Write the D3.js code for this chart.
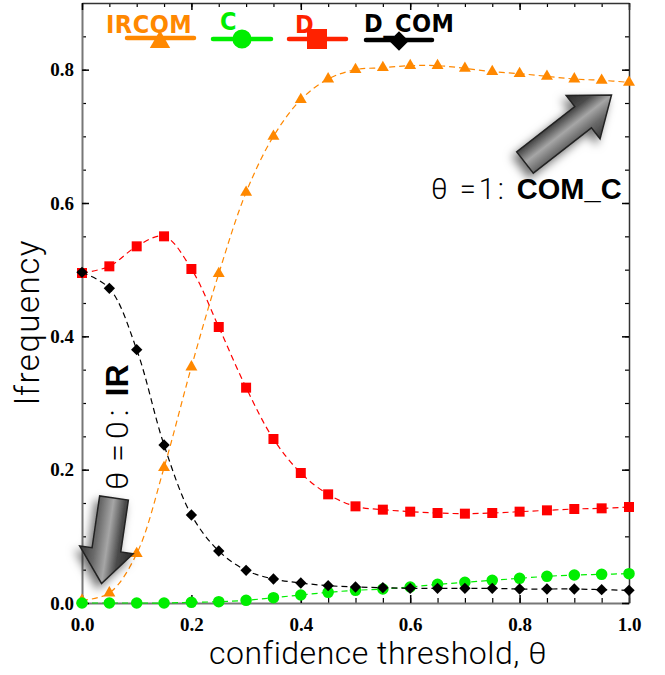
<!DOCTYPE html>
<html>
<head>
<meta charset="utf-8">
<script src="https://cdn.jsdelivr.net/npm/d3@7"></script>
<style>
  body { margin: 0; background: #fff; }
</style>
</head>
<body>
<div id="chart-area"></div>
<script>

// confidence threshold values
var theta = [0.00, 0.05, 0.10, 0.15, 0.20, 0.25, 0.30, 0.35, 0.40, 0.45, 0.50,
             0.55, 0.60, 0.65, 0.70, 0.75, 0.80, 0.85, 0.90, 0.95, 1.00];

var ircom = [0.004, 0.015, 0.074, 0.203, 0.354, 0.494, 0.616, 0.700, 0.755, 0.786, 0.800,
             0.803, 0.806, 0.806, 0.802, 0.797, 0.794, 0.790, 0.786, 0.784, 0.781];
var cFreq = [0.000, 0.000, 0.000, 0.000, 0.001, 0.002, 0.004, 0.008, 0.012, 0.016, 0.019,
             0.021, 0.024, 0.028, 0.031, 0.034, 0.037, 0.040, 0.042, 0.043, 0.044];
var dFreq = [0.495, 0.505, 0.535, 0.550, 0.501, 0.414, 0.323, 0.246, 0.195, 0.163, 0.145,
             0.140, 0.137, 0.135, 0.134, 0.135, 0.137, 0.139, 0.141, 0.142, 0.144];
var dcom  = [0.496, 0.472, 0.380, 0.237, 0.132, 0.078, 0.049, 0.036, 0.030, 0.026, 0.024,
             0.023, 0.022, 0.022, 0.022, 0.022, 0.021, 0.021, 0.021, 0.020, 0.019];

var seriesNames = ["IRCOM", "C", "D", "D_COM"];
var xTickVals = [0.0, 0.2, 0.4, 0.6, 0.8, 1.0];
var yTickVals = [0.0, 0.2, 0.4, 0.6, 0.8];

var margin = { left:82, right:36, top:3, bottom:72 };

var width = 665 - margin.left - margin.right,
    height = 675 - margin.top - margin.bottom;

var svg = d3.select("#chart-area")
    .append("svg")
        .attr("width", width + margin.left + margin.right)
        .attr("height", height + margin.top + margin.bottom);

var g = svg.append("g")
        .attr("transform", "translate(" + margin.left + ", " + margin.top + ")");

var x = d3.scaleLinear().domain([0, 1]).range([0, width]);
var y = d3.scaleLinear().domain([0, 0.9]).range([height, 0]);

var xMinor = theta;
var yMinor = d3.range(0, 0.88, 0.05);

// defs: arrow gradient + shadow
var defs = svg.append("defs");
var grad = defs.append("linearGradient")
    .attr("id", "arrowGrad")
    .attr("x1", 0).attr("y1", 0).attr("x2", 0).attr("y2", 1);
grad.append("stop").attr("offset", "0%").attr("stop-color", "#2a2a2a");
grad.append("stop").attr("offset", "28%").attr("stop-color", "#4a4a4a");
grad.append("stop").attr("offset", "50%").attr("stop-color", "#a6a6a6");
grad.append("stop").attr("offset", "72%").attr("stop-color", "#6a6a6a");
grad.append("stop").attr("offset", "100%").attr("stop-color", "#3a3a3a");

var shadow = defs.append("filter")
    .attr("id", "arrowShadow")
    .attr("x", "-60%").attr("y", "-60%")
    .attr("width", "220%").attr("height", "220%");
shadow.append("feDropShadow")
    .attr("dx", -4).attr("dy", 5)
    .attr("stdDeviation", 5)
    .attr("flood-color", "#000")
    .attr("flood-opacity", 0.55);

// Axes (ticks point inward on all four sides)
function styleAxis(sel) {
    sel.select(".domain").attr("stroke", "#777").attr("stroke-width", 2);
    sel.selectAll(".tick line").attr("stroke", "#000").attr("stroke-width", 1.5);
    sel.selectAll(".tick text")
        .attr("fill", "#000")
        .style("font-family", "'Liberation Serif', 'Times New Roman', serif")
        .style("font-weight", "bold")
        .style("font-size", "19px");
}

function minorStyle(s) {
    s.select(".domain").remove();
    s.selectAll("line").attr("stroke", "#000").attr("stroke-width", 1.2);
}

// minor ticks
g.append("g")
    .attr("transform", "translate(0," + height + ")")
    .call(d3.axisBottom(x).tickValues(xMinor).tickSize(-5).tickFormat(""))
    .call(minorStyle);
g.append("g")
    .call(d3.axisTop(x).tickValues(xMinor).tickSize(-4).tickFormat(""))
    .call(minorStyle);
g.append("g")
    .call(d3.axisLeft(y).tickValues(yMinor).tickSize(-4).tickFormat(""))
    .call(minorStyle);
g.append("g")
    .attr("transform", "translate(" + width + ",0)")
    .call(d3.axisRight(y).tickValues(yMinor).tickSize(-4).tickFormat(""))
    .call(minorStyle);

// X Axis
g.append("g")
    .attr("class", "x axis")
    .attr("transform", "translate(0," + height + ")")
    .call(d3.axisBottom(x).tickValues(xTickVals).tickSize(-8).tickSizeOuter(0)
        .tickPadding(15).tickFormat(d3.format(".1f")))
    .call(styleAxis);

// Y Axis
g.append("g")
    .attr("class", "y axis")
    .call(d3.axisLeft(y).tickValues(yTickVals).tickSize(-7).tickSizeOuter(0)
        .tickPadding(8).tickFormat(d3.format(".1f")))
    .call(styleAxis);

// top / right frame
g.append("g")
    .call(d3.axisTop(x).tickValues(xTickVals).tickSize(-7).tickSizeOuter(0).tickFormat(""))
    .call(styleAxis)
    .select(".domain").attr("stroke", "#333").attr("stroke-width", 1.5);
g.append("g")
    .attr("transform", "translate(" + width + ",0)")
    .call(d3.axisRight(y).tickValues(yTickVals).tickSize(-7).tickSizeOuter(0).tickFormat(""))
    .call(styleAxis)
    .select(".domain").attr("stroke", "#333").attr("stroke-width", 1.5);

// Series
var series = [
    { name: seriesNames[0], values: ircom, color: "#ff8800", symbol: d3.symbolTriangle, size: 62, rot: 0 },
    { name: seriesNames[1], values: cFreq, color: "#00ee00", symbol: d3.symbolCircle, size: 105, rot: 0 },
    { name: seriesNames[2], values: dFreq, color: "#ff0000", symbol: d3.symbolSquare, size: 100, rot: 0 },
    { name: seriesNames[3], values: dcom, color: "#000000", symbol: d3.symbolSquare, size: 64, rot: 45 }
];

var line = d3.line()
    .x(function(d, i) { return x(theta[i]); })
    .y(function(d) { return y(d); })
    .curve(d3.curveCatmullRom.alpha(0.5));

series.forEach(function(s) {
    g.append("path")
        .attr("d", line(s.values))
        .attr("fill", "none")
        .attr("stroke", s.color)
        .attr("stroke-width", 1.2)
        .attr("stroke-dasharray", "6,4");

    g.selectAll(null)
        .data(s.values)
        .enter()
        .append("path")
            .attr("d", d3.symbol().type(s.symbol).size(s.size))
            .attr("transform", function(d, i) {
                return "translate(" + x(theta[i]) + "," + y(d) + ") rotate(" + s.rot + ")";
            })
            .attr("fill", s.color);
});

// Legend
var legendLayout = [
    { tx: 106, ty: 33, x1: 127, x2: 194, ly: 38, mx: 160, my: 42, msize: 180 },
    { tx: 220, ty: 30, x1: 213, x2: 271, ly: 39, mx: 242, my: 39, msize: 290 },
    { tx: 295, ty: 33, x1: 289, x2: 346, ly: 39, mx: 317, my: 39, msize: 400 },
    { tx: 364, ty: 32, x1: 366, x2: 432, ly: 40, mx: 399, my: 41, msize: 190 }
];

series.forEach(function(s, i) {
    var L = legendLayout[i];
    var col = s.color === "#ff0000" ? "#ff2200" : s.color;
    svg.append("text")
        .attr("x", L.tx)
        .attr("y", L.ty)
        .attr("fill", col)
        .style("font-family", "'Liberation Sans Narrow', 'DejaVu Sans Condensed', sans-serif")
        .style("font-weight", "bold")
        .style("font-size", "25px")
        .style("letter-spacing", "0.5px")
        .text(s.name);
    svg.append("line")
        .attr("x1", L.x1).attr("x2", L.x2)
        .attr("y1", L.ly).attr("y2", L.ly)
        .attr("stroke", col)
        .attr("stroke-width", 4.5)
        .attr("stroke-linecap", "round");
    svg.append("path")
        .attr("d", d3.symbol().type(s.symbol).size(L.msize))
        .attr("transform", "translate(" + L.mx + "," + L.my + ") rotate(" + s.rot + ")")
        .attr("fill", col);
});

// Axis titles
var titleFont = "Roboto, 'Liberation Sans', Helvetica, sans-serif";

svg.append("text")
    .attr("x", 378)
    .attr("y", 664)
    .attr("text-anchor", "middle")
    .style("font-family", titleFont)
    .style("font-weight", 300)
    .style("font-size", "32px")
    .style("letter-spacing", "0.5px")
    .text("confidence threshold, θ");

svg.append("text")
    .attr("transform", "translate(39, 322) rotate(-90)")
    .attr("text-anchor", "middle")
    .style("font-family", titleFont)
    .style("font-weight", 300)
    .style("font-size", "33px")
    .style("letter-spacing", "1.5px")
    .text("lfrequency");

// Block arrows
function blockArrow(tail, tip, sw, hw, hl) {
    var dx = tip[0] - tail[0], dy = tip[1] - tail[1];
    var L = Math.sqrt(dx * dx + dy * dy);
    var ang = Math.atan2(dy, dx) * 180 / Math.PI;
    var pts = [[0, -sw / 2], [L - hl, -sw / 2], [L - hl, -hw / 2], [L, 0],
               [L - hl, hw / 2], [L - hl, sw / 2], [0, sw / 2]];
    svg.append("g")
        .attr("filter", "url(#arrowShadow)")
        .append("polygon")
            .attr("points", pts.map(function(p) { return p.join(","); }).join(" "))
            .attr("transform", "translate(" + tail[0] + "," + tail[1] + ") rotate(" + ang + ")")
            .attr("fill", "url(#arrowGrad)")
            .attr("stroke", "#222")
            .attr("stroke-width", 1.5)
            .attr("stroke-linejoin", "miter");
}

blockArrow([114, 498], [101.5, 583.5], 29, 54, 34);
blockArrow([525, 162.5], [611.5, 95], 27, 55, 36);

// Annotations
var ann1 = svg.append("text")
    .attr("transform", "translate(128, 490) rotate(-90)")
    .style("font-family", titleFont)
    .style("font-size", "32px");
ann1.append("tspan").style("font-weight", 300).text("θ");
ann1.append("tspan").attr("dx", 10).style("font-weight", 300)
    .style("letter-spacing", "5px").text("=0:");
ann1.append("tspan").attr("dx", 8).style("font-weight", "bold")
    .style("font-family", "'Liberation Sans', Arial, sans-serif").text("IR");

var ann2 = svg.append("text")
    .attr("x", 431)
    .attr("y", 199)
    .style("font-family", titleFont)
    .style("font-size", "29px");
ann2.append("tspan").style("font-weight", 300).text("θ");
ann2.append("tspan").attr("dx", 12).style("font-weight", 300)
    .style("letter-spacing", "3px").text("=1:");
ann2.append("tspan").attr("dx", 10).style("font-weight", "bold")
    .style("font-family", "'Liberation Sans', Arial, sans-serif").text("COM_C");

</script>
</body>
</html>
